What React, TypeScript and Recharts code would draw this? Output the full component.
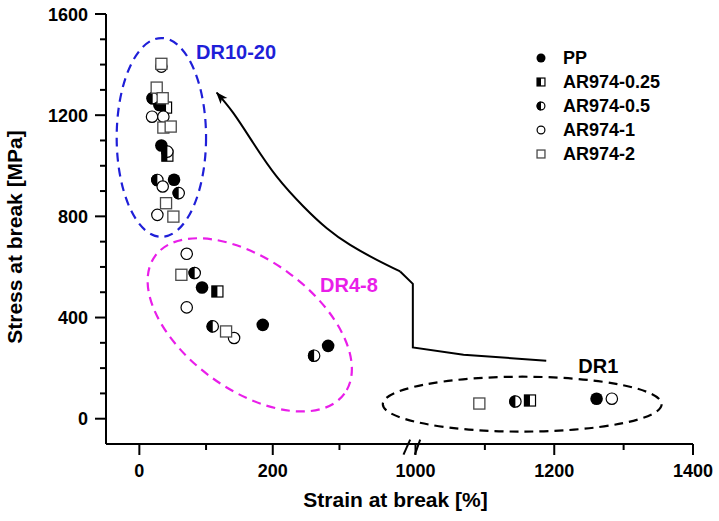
import { ScatterChart, Scatter, XAxis, YAxis, ReferenceArea, ReferenceLine, ReferenceDot, Label } from 'recharts';

// strain at break [%] / stress at break [MPa]
const ppStrain = [30, 33, 52, 94, 185, 283, 1261];
const ppStress = [1240, 1080, 945, 519, 371, 288, 79];
const ar025Strain = [40, 42, 117, 1165];
const ar025Stress = [1230, 1040, 503, 72];
const ar05Strain = [20, 42, 27, 59, 83, 110, 262, 1144];
const ar05Stress = [1267, 1056, 944, 892, 576, 365, 249, 68];
const ar1Strain = [33, 19, 36, 35, 27, 71, 71, 142, 1283];
const ar1Stress = [1392, 1194, 1194, 918, 806, 652, 440, 319, 79];
const ar2Strain = [33, 26, 35, 36, 47, 40, 51, 63, 130, 1092];
const ar2Stress = [1403, 1309, 1267, 1151, 1155, 852, 799, 569, 345, 60];

const xTickStrains = [0, 100, 200, 300, 1000, 1100, 1200, 1300, 1400];
const xMajor = [0, 200, 1000, 1200, 1400];
const yTicks = [0, 100, 200, 300, 400, 500, 600, 700, 800, 900, 1000, 1100, 1200, 1300, 1400, 1500, 1600];

// arrow path, in axis units (it crosses the axis break): straight part, then the curve
const arrowLegX = [610, 486, 410, 410, 391];
const arrowLegY = [229, 253, 282, 533, 582];
const arrowCurveX = [391, 356, 316, 281, 246, 206, 171, 141, 116];
const arrowCurveY = [582, 628, 687, 753, 839, 957, 1089, 1208, 1289];

// broken x axis: right part starts at 1000 %
const BREAK_FROM = 1000;
const BREAK_AT = 414;
const RIGHT_STRETCH = 1.04;
const toAxis = (s: number) => (s < BREAK_FROM ? s : BREAK_AT + (s - BREAK_FROM) * RIGHT_STRETCH);

const FONT = '"Liberation Sans", Arial, Helvetica, sans-serif';
const BLUE = '#1f1fd8';
const MAGENTA = '#e91ee9';

const series = [
  { name: 'PP', kind: 'pp', strain: ppStrain, stress: ppStress },
  { name: 'AR974-0.25', kind: 'halfSquare', strain: ar025Strain, stress: ar025Stress },
  { name: 'AR974-0.5', kind: 'halfCircle', strain: ar05Strain, stress: ar05Stress },
  { name: 'AR974-1', kind: 'openCircle', strain: ar1Strain, stress: ar1Stress },
  { name: 'AR974-2', kind: 'openSquare', strain: ar2Strain, stress: ar2Stress },
];

function drawMarker(kind: string, cx: number, cy: number, r: number) {
  const h = r * 0.88;
  switch (kind) {
    case 'pp':
      return <circle cx={cx} cy={cy} r={r} fill="#000" />;
    case 'halfSquare':
      return (
        <g>
          <rect x={cx - h} y={cy - h} width={2 * h} height={2 * h} fill="#fff" stroke="#000" strokeWidth={1.2} />
          <rect x={cx - h} y={cy - h} width={h} height={2 * h} fill="#000" />
        </g>
      );
    case 'halfCircle':
      return (
        <g>
          <circle cx={cx} cy={cy} r={r - 0.6} fill="#fff" stroke="#000" strokeWidth={1.2} />
          <path d={`M${cx},${cy - r} A${r},${r} 0 0 0 ${cx},${cy + r} Z`} fill="#000" />
        </g>
      );
    case 'openCircle':
      return <circle cx={cx} cy={cy} r={r - 0.6} fill="#fff" stroke="#000" strokeWidth={1.2} />;
    default:
      return <rect x={cx - h} y={cy - h} width={2 * h} height={2 * h} fill="#fff" stroke="#4a4a4a" strokeWidth={1.3} />;
  }
}

const YTick = ({ x, y, payload }: any) => {
  const axisX = x + 18;
  const major = payload.value % 400 === 0;
  return (
    <g>
      <line x1={axisX} x2={axisX - (major ? 11 : 6)} y1={y} y2={y} stroke="#000" strokeWidth={2} />
      {major && (
        <text x={x} y={y + 6.5} textAnchor="end" fontFamily={FONT} fontWeight="bold" fontSize={18} fill="#000">
          {payload.value}
        </text>
      )}
    </g>
  );
};

const XTick = ({ x, y, payload }: any) => {
  const axisY = y - 18;
  const strain = xTickStrains[xTickStrains.map(toAxis).indexOf(payload.value)];
  const major = xMajor.includes(strain);
  return (
    <g>
      <line x1={x} x2={x} y1={axisY} y2={axisY + (major ? 11 : 6)} stroke="#000" strokeWidth={2} />
      {major && (
        <text x={x} y={axisY + 33} textAnchor="middle" fontFamily={FONT} fontWeight="bold" fontSize={18} fill="#000">
          {strain}
        </text>
      )}
    </g>
  );
};

const ellipseShape = (color: string, angle: number) => (p: any) => {
  const cx = p.x + p.width / 2;
  const cy = p.y + p.height / 2;
  return (
    <ellipse
      cx={cx}
      cy={cy}
      rx={Math.abs(p.width) / 2}
      ry={Math.abs(p.height) / 2}
      fill="none"
      stroke={color}
      strokeWidth={2.2}
      strokeDasharray="9 6"
      transform={`rotate(${angle} ${cx} ${cy})`}
    />
  );
};

const tagShape = (text: string, color: string) => (p: any) => (
  <text x={p.cx} y={p.cy + 7} fontFamily={FONT} fontWeight="bold" fontSize={20} fill={color}>
    {text}
  </text>
);

export default function App() {
  const legData = arrowLegX.map((x, i) => ({ x, y: arrowLegY[i] }));
  const curveData = arrowCurveX.map((x, i) => ({ x, y: arrowCurveY[i] }));

  return (
    <div style={{ position: 'absolute', left: 0, top: 0, width: 719, height: 521, background: '#fff' }}>
      <ScatterChart width={719} height={521} margin={{ top: 14, right: 26, bottom: 0, left: 0 }}>
        <defs>
          <marker id="arrowHead" markerWidth="14" markerHeight="12" refX="11" refY="5" orient="auto" markerUnits="userSpaceOnUse">
            <path d="M0,0.5 L12,5 L0,9.5 L3,5 Z" fill="#000" />
          </marker>
        </defs>
        <XAxis
          type="number"
          dataKey="x"
          domain={[-50, toAxis(1400)]}
          ticks={xTickStrains.map(toAxis)}
          allowDataOverflow
          height={77}
          axisLine={{ stroke: '#000', strokeWidth: 2 }}
          tickLine={false}
          tickSize={10}
          tickMargin={8}
          tick={<XTick />}
        >
          <Label
            content={({ viewBox }: any) => (
              <text x={viewBox.x + viewBox.width / 2 - 4} y={viewBox.y + 63} textAnchor="middle" fontFamily={FONT} fontWeight="bold" fontSize={21} fill="#000">
                Strain at break [%]
              </text>
            )}
          />
        </XAxis>
        <YAxis
          type="number"
          dataKey="y"
          domain={[-100, 1600]}
          ticks={yTicks}
          allowDataOverflow
          width={106}
          axisLine={{ stroke: '#000', strokeWidth: 2 }}
          tickLine={false}
          tickSize={10}
          tickMargin={8}
          tick={<YTick />}
        >
          <Label
            content={({ viewBox }: any) => {
              const cy = viewBox.y + viewBox.height / 2 + 8;
              return (
                <text x={22} y={cy} transform={`rotate(-90 22 ${cy})`} textAnchor="middle" fontFamily={FONT} fontWeight="bold" fontSize={21} fill="#000">
                  Stress at break [MPa]
                </text>
              );
            }}
          />
        </YAxis>

        <ReferenceArea x1={-34} x2={100} y1={719} y2={1505} shape={ellipseShape(BLUE, 0)} />
        <ReferenceArea x1={-10} x2={341} y1={114} y2={628} shape={ellipseShape(MAGENTA, 36)} />
        <ReferenceArea x1={365} x2={783} y1={-51} y2={166} shape={ellipseShape('#000', 0)} />

        <ReferenceLine segment={[{ x: 396, y: -142 }, { x: 406, y: -83 }]} stroke="#000" strokeWidth={2} ifOverflow="visible" />
        <ReferenceLine segment={[{ x: 413, y: -142 }, { x: 421, y: -83 }]} stroke="#000" strokeWidth={2} ifOverflow="visible" />

        <Scatter
          data={legData}
          isAnimationActive={false}
          fill="#000"
          line={{ stroke: '#000', strokeWidth: 2 }}
          shape={() => <g />}
        />
        <Scatter
          data={curveData}
          isAnimationActive={false}
          fill="#000"
          lineJointType="natural"
          line={{ stroke: '#000', strokeWidth: 2, markerEnd: 'url(#arrowHead)' }}
          shape={() => <g />}
        />

        {series.map((s) => (
          <Scatter
            key={s.name}
            name={s.name}
            data={s.strain.map((v, i) => ({ x: toAxis(v), y: s.stress[i] }))}
            isAnimationActive={false}
            shape={(p: any) => drawMarker(s.kind, p.cx, p.cy, 6.3)}
          />
        ))}

        <ReferenceDot x={85} y={1450} r={0} shape={tagShape('DR10-20', BLUE)} />
        <ReferenceDot x={271} y={529} r={0} shape={tagShape('DR4-8', MAGENTA)} />
        <ReferenceDot x={658} y={209} r={0} shape={tagShape('DR1', '#000')} />
      </ScatterChart>

      <div style={{ position: 'absolute', left: 533, top: 46, fontFamily: FONT, fontWeight: 'bold', fontSize: 18, color: '#000' }}>
        {series.map((s) => (
          <div key={s.name} style={{ display: 'flex', alignItems: 'center', height: 24 }}>
            <svg width={16} height={16} style={{ marginRight: 14 }}>
              {drawMarker(s.kind, 8, 8, 4.5)}
            </svg>
            <span>{s.name}</span>
          </div>
        ))}
      </div>
    </div>
  );
}
